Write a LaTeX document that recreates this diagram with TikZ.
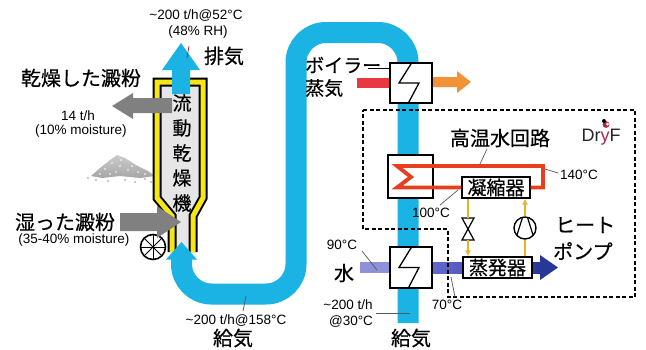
\documentclass[tikz,border=0pt]{standalone}
\usepackage{fontspec}
\setmainfont{Liberation Sans}
\newfontfamily\jp[FakeBold=0.5]{Noto Sans CJK JP}
\usetikzlibrary{arrows.meta,calc}
\definecolor{duct}{RGB}{27,178,228}
\definecolor{yel}{RGB}{246,230,20}
\definecolor{dryin}{RGB}{230,230,230}
\definecolor{garrow}{RGB}{128,128,128}
\definecolor{steamred}{RGB}{232,56,64}
\definecolor{steamor}{RGB}{243,146,55}
\definecolor{hwred}{RGB}{232,62,30}
\definecolor{gold}{RGB}{230,180,40}
\definecolor{waterL}{RGB}{142,144,216}
\definecolor{waterA}{RGB}{100,104,206}
\definecolor{waterB}{RGB}{40,56,150}
\definecolor{logored}{RGB}{176,40,70}
\tikzset{
  jlab/.style={font=\jp\fontsize{20}{22}\selectfont, inner sep=0pt},
  slab/.style={font=\fontsize{13.5}{14}\selectfont, inner sep=0pt, align=center},
  lead/.style={draw=black!65, line width=0.7pt},
  hxbox/.style={draw=black, line width=1.3pt, fill=white, inner sep=0pt},
  zz/.style={line width=1.3pt, line join=miter},
  hpbox/.style={draw, line width=1.3pt, fill=white, inner sep=0pt,
    minimum width=68pt, minimum height=21pt, font=\jp\fontsize{19}{19}\selectfont},
  flow/.style={draw=gold, line width=1.3pt},
  flowtip/.style={flow, -{Latex[length=6pt,width=6pt]}},
  boundary/.style={line width=1.8pt, dash pattern=on 4pt off 2.5pt, line join=miter},
}
\newcommand\hxzig[1]{%
  \draw[zz] ([xshift=1pt]#1.north) -- ([xshift=-12pt]#1.center)
    -- ([xshift=8pt]#1.center) -- ([xshift=-3pt]#1.south);}
\begin{document}
\begin{tikzpicture}[x=1pt,y=-1pt]
\useasboundingbox (0,0) rectangle (646,349);
\fill[white] (0,0) rectangle (646,349);

% pile of dried starch
\shade[top color=gray!40, bottom color=gray!70]
  (91,176) -- (100,168) -- (110,160) -- (117,155) -- (125,158) -- (136,165)
  -- (148,171) -- (155,176) -- (140,178) -- (120,176) -- (102,178) -- cycle;
\foreach \p in {(105,169),(112,163),(120,166),(128,170),(138,172),(116,172),
  (100,174),(132,166),(121,160),(145,174),(110,174)}
  \fill[white] \p circle[radius=0.9pt];
\foreach \p in {(96,180),(108,181),(125,180),(145,179),(151,182),(88,178),(135,182)}
  \fill[gray!55] \p circle[radius=1.1pt];

% fluidised-bed dryer column
\fill[dryin] (157,82) -- (203,82) -- (203,198) -- (193,216) -- (193,252)
  -- (172,252) -- (172,216) -- (157,198) -- cycle;
\draw[line width=2pt, double=yel, double distance=5pt, line join=miter]
  (172,252) -- (172,216) -- (157,198) -- (157,82) -- (203,82) -- (203,198)
  -- (193,216) -- (193,252);

% air duct loop
\draw[duct, line width=21pt, rounded corners=30pt]
  (408,323) -- (408,32.5) -- (296,32.5) -- (296,294) -- (181.5,294) -- (181.5,259);
\fill[duct] (166,259.5) -- (181.5,242) -- (197,259.5) -- cycle;

% exhaust
\fill[duct] (172,94) -- (172,70) -- (162,70) -- (181,43) -- (200,70)
  -- (190,70) -- (190,94) -- cycle;

% rotary valve
\node[circle, draw, line width=1.6pt, fill=white, minimum size=25pt, inner sep=0pt]
  (wheel) at (153,247) {};
\foreach \a in {0,45,90,135}
  \draw[line width=1pt] ($(wheel.center)+(\a:12pt)$) -- ($(wheel.center)+(\a+180:12pt)$);

% starch in and out
\fill[garrow] (172,98) -- (133,98) -- (133,93) -- (112,106) -- (133,119)
  -- (133,113) -- (172,113) -- cycle;
\fill[garrow] (120,213) -- (157,213) -- (157,206) -- (181,222) -- (157,238)
  -- (157,231) -- (120,231) -- cycle;

% boiler steam heater
\fill[steamred] (357,78) rectangle (391,88);
\fill[steamor] (431,77) -- (457,77) -- (457,71) -- (471,82) -- (457,93)
  -- (457,87) -- (431,87) -- cycle;
\node[hxbox, minimum width=42pt, minimum height=40pt] (hxb) at (411,83) {};
\hxzig{hxb}
\coordinate (blab) at (368,68);
\draw[line width=1pt] (blab) -- (blab -| hxb.west);

% water line
\fill[waterL] (360,262) rectangle (391,273);
\shade[left color=waterA, right color=waterB] (431,262) rectangle (541,273);
\fill[waterB] (540,255) -- (558,267.5) -- (540,280) -- cycle;
\node[hxbox, minimum width=42pt, minimum height=41pt] (hxw) at (411,267.5) {};
\hxzig{hxw}

% high-temperature water heater
\node[hxbox, minimum width=45pt, minimum height=43pt] (hxc) at (410.5,176.5) {};

% heat pump
\node[hpbox] (cond) at (496,187.5) {凝縮器};
\node[hpbox, minimum width=69pt] (evap) at (497.5,267.5) {蒸発器};
\draw[hwred, line width=3.8pt, line join=miter]
  (cond.west) -- (397,187.5) -- (411,177) -- (397,166) -- (543,166)
  -- (543,187.5) -- (cond.east);

\coordinate (vtop) at (468,218);
\coordinate (vbot) at (468,240);
\draw[line width=1.2pt, line join=miter] (462,218) -- (474,218) -- (462,240) -- (474,240) -- cycle;
\draw[flow] (vtop |- cond.south) -- (vtop);
\draw[flowtip] (vbot) -- (vbot |- evap.north);

\node[circle, draw, line width=1.4pt, minimum size=22pt, inner sep=0pt] (comp) at (525,228) {};
\draw[line width=1.2pt] (522.5,217.5) -- (516.8,235.5);
\draw[line width=1.2pt] (527.5,217.5) -- (533.2,235.5);
\draw[flow] (comp.south |- evap.north) -- (comp.south);
\draw[flowtip] (comp.north) -- (comp.north |- cond.south);

% heat pump boundary
\draw[boundary] (363,110) -- (635,110) -- (635,297) -- (448,297) -- (448,229)
  -- (363,229) -- cycle;

% labels
\node[slab] (exA) at (196,16) {\textasciitilde200 t/h@52°C};
\node[slab] (exB) at (198,32) {(48\% RH)};
\draw[red!70!black, line width=0.6pt] (189,46) -- (187,58);
\node[jlab] (exh) at (224,56) {排気};
\node[jlab] (dry) at (81,78) {乾燥した澱粉};
\node[slab] (dryA) at (78,115.5) {14 t/h};
\node[slab] (dryB) at (81,131.5) {(10\% moisture)};
\foreach \c [count=\i from 0] in {流,動,乾,燥,機}
  \node[font=\jp\fontsize{19}{19}\selectfont, inner sep=0pt] (col\i) at (182,103+25*\i) {\c};
\node[jlab] (wet) at (65,222) {湿った澱粉};
\node[slab] (wetA) at (74,240) {(35-40\% moisture)};
\node[slab] (inA) at (236,321) {\textasciitilde200 t/h@158°C};
\draw[lead] (243,311) -- (246,296);
\node[jlab] (inB) at (233,338) {給気};
\node[jlab, anchor=west, font=\jp\fontsize{19}{20}\selectfont] (boiA) at (305,65) {ボイラー};
\node[jlab, anchor=west, font=\jp\fontsize{19}{20}\selectfont] (boiB) at (305,88) {蒸気};
\node[jlab] (hw) at (500,138) {高温水回路};
\draw[lead] (487,149) -- (480,164);
\node[slab, anchor=west] (t140) at (560,175) {140°C};
\draw[lead] (545,169) -- (558,173);
\node[slab] (t100) at (431,213) {100°C};
\draw[lead] (440,205) -- (458,190);
\node[font=\fontsize{18}{18}\selectfont, inner sep=0pt, text=black!85] (logo) at (601,137)
  {Dr\textcolor{logored}{y}F};
\fill[logored] (606,124.5) circle[radius=3.4pt];
\fill[black] (604,121) circle[radius=2pt];
\fill[white] (607.5,124) circle[radius=1.5pt];
\node[jlab, anchor=west] (hpA) at (555,225) {ヒート};
\node[jlab, anchor=west] (hpB) at (553,251) {ポンプ};
\node[slab] (t90) at (342,245) {90°C};
\draw[lead] (362,251) -- (377,270);
\node[jlab] (wat) at (344,273) {水};
\node[slab] (t70) at (447,305) {70°C};
\draw[lead] (455,297) -- (451,277);
\node[slab] (srcA) at (348,305) {\textasciitilde200 t/h};
\node[slab] (srcB) at (351,322) {@30°C};
\draw[lead] (376,313) -- (410,313);
\node[jlab] (src) at (411,338) {給気};
\end{tikzpicture}
\end{document}
